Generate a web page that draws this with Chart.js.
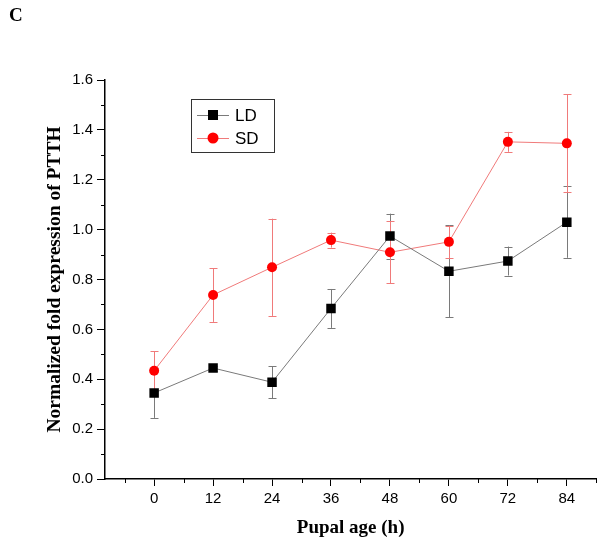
<!DOCTYPE html>
<html>
<head>
<meta charset="utf-8">
<script src="https://cdn.jsdelivr.net/npm/chart.js@4/dist/chart.umd.min.js"></script>
<style>
  html, body { margin: 0; padding: 0; background: #fff; }
  #wrap { width: 603px; height: 542px; position: relative; }
</style>
</head>
<body>
<div id="wrap"><canvas id="chart"></canvas></div>
<script>
// data
const hours = [0, 12, 24, 36, 48, 60, 72, 84];
const ldMean = [0.345, 0.445, 0.388, 0.684, 0.974, 0.833, 0.874, 1.030];
const ldErr  = [0.100, 0.010, 0.064, 0.078, 0.090, 0.185, 0.058, 0.143];
const sdMean = [0.434, 0.738, 0.849, 0.958, 0.909, 0.951, 1.352, 1.346];
const sdErr  = [0.079, 0.108, 0.195, 0.030, 0.125, 0.065, 0.040, 0.197];
const xTicks = [0, 12, 24, 36, 48, 60, 72, 84];
const yTicks = [0.0, 0.2, 0.4, 0.6, 0.8, 1.0, 1.2, 1.4, 1.6];

const LD_LINE = "#7a7a7a";
const SD_LINE = "#f07a7a";

function toPoints(means) {
    return hours.map((h, i) => ({ x: h, y: means[i] }));
}

// error bars + minor ticks + legend + panel letter
const extras = {
    id: "extras",
    beforeDatasetsDraw(chart) {
        const ctx = chart.ctx;
        const xs = chart.scales.x, ys = chart.scales.y;
        const sets = [[ldMean, ldErr, LD_LINE], [sdMean, sdErr, SD_LINE]];
        ctx.save();
        ctx.lineWidth = 1;
        sets.forEach(([m, e, col]) => {
            ctx.strokeStyle = col;
            hours.forEach((h, i) => {
                const px = Math.round(xs.getPixelForValue(h)) + 0.5;
                const top = ys.getPixelForValue(m[i] + e[i]);
                const bot = ys.getPixelForValue(m[i] - e[i]);
                ctx.beginPath();
                ctx.moveTo(px, top); ctx.lineTo(px, bot);
                ctx.moveTo(px - 4, Math.round(top) + 0.5); ctx.lineTo(px + 4, Math.round(top) + 0.5);
                ctx.moveTo(px - 4, Math.round(bot) + 0.5); ctx.lineTo(px + 4, Math.round(bot) + 0.5);
                ctx.stroke();
            });
        });
        ctx.restore();
    },
    afterDraw(chart) {
        const ctx = chart.ctx;
        const xs = chart.scales.x, ys = chart.scales.y;
        const area = chart.chartArea;
        ctx.save();
        ctx.strokeStyle = "#000";
        ctx.lineWidth = 1;
        // minor ticks
        ctx.beginPath();
        for (let v = -6; v <= 90; v += 12) {
            const px = Math.round(xs.getPixelForValue(v)) + 0.5;
            ctx.moveTo(px, area.bottom); ctx.lineTo(px, area.bottom + 4);
        }
        for (let v = 0.1; v < 1.6; v += 0.2) {
            const py = Math.round(ys.getPixelForValue(v)) + 0.5;
            ctx.moveTo(area.left, py); ctx.lineTo(area.left - 4, py);
        }
        ctx.stroke();

        // legend box
        const lx = 191, ly = 99, lw = 83, lh = 53;
        ctx.lineWidth = 1;
        ctx.strokeStyle = "#333";
        ctx.strokeRect(lx + 0.5, ly + 0.5, lw, lh);
        const rows = [["LD", LD_LINE, "sq"], ["SD", SD_LINE, "ci"]];
        ctx.font = "17px 'Liberation Sans', Arial, sans-serif";
        ctx.textBaseline = "middle";
        rows.forEach(([label, col, mk], i) => {
            const cy = ly + 16 + i * 23;
            ctx.strokeStyle = col;
            ctx.beginPath();
            ctx.moveTo(lx + 6, cy + 0.5); ctx.lineTo(lx + 38, cy + 0.5);
            ctx.stroke();
            if (mk === "sq") {
                ctx.fillStyle = "#000";
                ctx.fillRect(lx + 17, cy - 5, 10, 10);
            } else {
                ctx.fillStyle = "#ff0000";
                ctx.beginPath();
                ctx.arc(lx + 22, cy, 5.5, 0, Math.PI * 2);
                ctx.fill();
            }
            ctx.fillStyle = "#000";
            ctx.fillText(label, lx + 44, cy + 1);
        });

        // panel letter
        ctx.font = "bold 19px 'Liberation Serif', 'Times New Roman', serif";
        ctx.fillStyle = "#000";
        ctx.textBaseline = "alphabetic";
        ctx.fillText("C", 9, 21);
        ctx.restore();
    }
};

new Chart(document.getElementById("chart"), {
    type: "line",
    data: {
        datasets: [
            {
                label: "LD",
                data: toPoints(ldMean),
                borderColor: LD_LINE,
                borderWidth: 1,
                pointStyle: "rect",
                pointRadius: 6.7,
                pointBackgroundColor: "#000",
                pointBorderColor: "#000",
                pointBorderWidth: 0,
                tension: 0
            },
            {
                label: "SD",
                data: toPoints(sdMean),
                borderColor: SD_LINE,
                borderWidth: 1,
                pointStyle: "circle",
                pointRadius: 5,
                pointBackgroundColor: "#ff0000",
                pointBorderColor: "#ff0000",
                pointBorderWidth: 0,
                tension: 0
            }
        ]
    },
    options: {
        responsive: true,
        maintainAspectRatio: false,
        animation: false,
        events: [],
        layout: { padding: { left: 0, right: 5, top: 80, bottom: 0 } },
        plugins: { legend: { display: false }, tooltip: { enabled: false } },
        scales: {
            x: {
                type: "linear",
                min: -10,
                max: 90,
                afterBuildTicks: s => { s.ticks = xTicks.map(v => ({ value: v })); },
                afterFit: s => { s.height = 63; },
                grid: { drawOnChartArea: false, drawTicks: true, tickLength: 7, tickColor: "#000", tickWidth: 1 },
                border: { color: "#000", width: 1.5 },
                ticks: {
                    color: "#000",
                    padding: 4,
                    maxRotation: 0,
                    font: { family: "'Liberation Sans', Arial, sans-serif", size: 15 }
                },
                title: {
                    display: true,
                    text: "Pupal age (h)",
                    color: "#000",
                    padding: { top: 0, bottom: 3 },
                    font: { family: "'Liberation Serif', 'Times New Roman', serif", size: 19, weight: "bold" }
                }
            },
            y: {
                min: 0,
                max: 1.6,
                afterBuildTicks: s => { s.ticks = yTicks.map(v => ({ value: v })); },
                afterFit: s => { s.width = 105; },
                grid: { drawOnChartArea: false, drawTicks: true, tickLength: 8, tickColor: "#000", tickWidth: 1 },
                border: { color: "#000", width: 1.5 },
                ticks: {
                    color: "#000",
                    padding: 4,
                    callback: v => v.toFixed(1),
                    font: { family: "'Liberation Sans', Arial, sans-serif", size: 15 }
                },
                title: {
                    display: true,
                    text: "Normalized fold expression of PTTH",
                    color: "#000",
                    padding: { top: 43, bottom: 0 },
                    font: { family: "'Liberation Serif', 'Times New Roman', serif", size: 19.5, weight: "bold" }
                }
            }
        }
    },
    plugins: [extras]
});
</script>
</body>
</html>
